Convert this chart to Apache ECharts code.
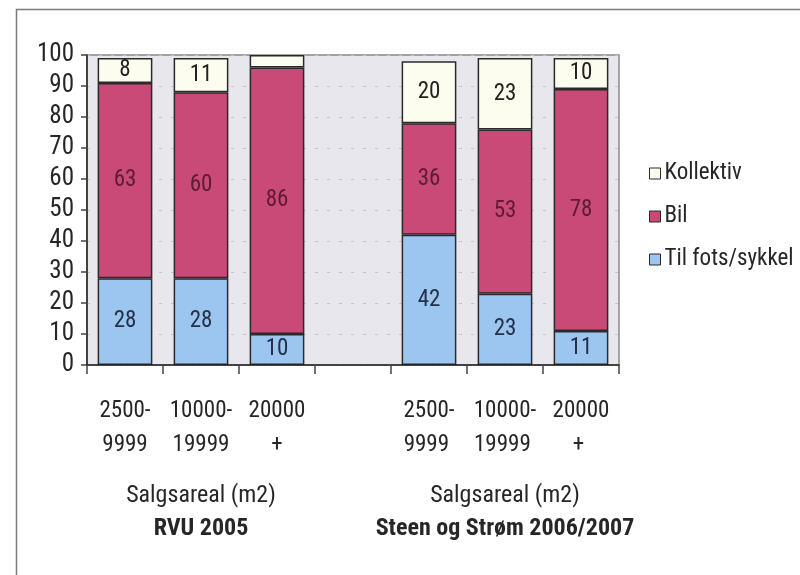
<!DOCTYPE html>
<html>
<head>
<meta charset="utf-8">
<script src="https://cdn.jsdelivr.net/npm/echarts@6/dist/echarts.min.js"></script>
<style>
  html, body { margin: 0; padding: 0; background: #ffffff; }
  #chart { width: 800px; height: 575px; }
</style>
</head>
<body>
<div id="chart"></div>
<script>
// Store size classes (sales area, m2) for two surveys; the empty slot separates them
const categories = ['2500-\n9999', '10000-\n19999', '20000\n+', '', '2500-\n9999 ', '10000-\n19999 ', '20000\n+ '];
const groupLabels = ['', 'RVU 2005', '', '', '', 'Steen og Strøm 2006/2007', ''];
const groupSubtitle = 'Salgsareal (m2)';

// Share of trips by travel mode (%)
const tilFots = [28, 28, 10, null, 42, 23, 11];
const bil = [63, 60, 86, null, 36, 53, 78];
const kollektiv = [8, 11, 4, null, 20, 23, 10];
// values too small to carry a label
const hideLabel = [false, false, true, false, false, false, false];

const yTicks = { min: 0, max: 100, interval: 10 };

const FONT = '"Liberation Sans Narrow", "Roboto Condensed", "DejaVu Sans Condensed", "Liberation Sans", Arial, sans-serif';
const BORDER = '#2a2a2a';
const TEXT = '#262626';

function toData(values) {
  return values.map((v, i) => ({
    value: v,
    label: hideLabel[i] && values === kollektiv ? { show: false } : undefined
  }));
}

function barSeries(name, values, color, labelColor) {
  return {
    name: name,
    type: 'bar',
    stack: 'total',
    barCategoryGap: '28%',
    data: toData(values),
    itemStyle: { color: color, borderColor: BORDER, borderWidth: 1.5 },
    label: {
      show: true,
      position: 'inside',
      fontFamily: FONT,
      fontSize: 23,
      color: labelColor
    },
    emphasis: { disabled: true }
  };
}

const chart = echarts.init(document.getElementById('chart'), null, { renderer: 'canvas' });

chart.setOption({
  animation: false,
  backgroundColor: '#ffffff',
  textStyle: { fontFamily: FONT },
  graphic: [{
    type: 'rect',
    silent: true,
    z: -10,
    shape: { x: 16.5, y: 9.5, width: 820, height: 620 },
    style: { fill: 'none', stroke: '#7a7a7a', lineWidth: 1.5 }
  }],
  grid: {
    left: 87, right: 181, top: 55, bottom: 210,
    show: true,
    backgroundColor: '#e7e7ed',
    borderColor: '#8a8a8a',
    borderWidth: 1.5
  },
  legend: {
    orient: 'vertical',
    left: 644,
    top: 157,
    itemWidth: 11,
    itemHeight: 11,
    itemGap: 20,
    icon: 'rect',
    data: ['Kollektiv', 'Bil', 'Til fots/sykkel'],
    textStyle: { fontFamily: FONT, fontSize: 23, color: TEXT, padding: [0, 0, 0, -1] },
    itemStyle: { borderColor: BORDER, borderWidth: 1 }
  },
  xAxis: [{
    type: 'category',
    data: categories,
    axisLine: { show: true, lineStyle: { color: '#222222', width: 1.5 } },
    axisTick: { show: true, length: 9, lineStyle: { color: '#444444', width: 1.5 } },
    axisLabel: {
      interval: 0,
      margin: 29,
      fontFamily: FONT,
      fontSize: 23,
      lineHeight: 34,
      color: TEXT
    },
    z: 5
  }, {
    type: 'category',
    data: groupLabels,
    position: 'bottom',
    axisLine: { show: false },
    axisTick: { show: false },
    axisLabel: {
      interval: 0,
      margin: 114,
      formatter: function (v) {
        return v ? '{sub|' + groupSubtitle + '}\n{main|' + v + '}' : '';
      },
      rich: {
        sub: { fontFamily: FONT, fontSize: 24, lineHeight: 33, color: TEXT },
        main: { fontFamily: FONT, fontSize: 24, lineHeight: 33, fontWeight: 'bold', color: TEXT }
      }
    }
  }],
  yAxis: {
    type: 'value',
    min: yTicks.min,
    max: yTicks.max,
    interval: yTicks.interval,
    axisLine: { show: true, lineStyle: { color: '#222222', width: 1.5 } },
    axisTick: { show: true, length: 6, lineStyle: { color: '#444444', width: 1.5 } },
    axisLabel: { fontFamily: FONT, fontSize: 25, color: TEXT, margin: 13 },
    splitLine: { show: true, lineStyle: { color: '#c2c2c8', type: [3, 9], width: 1 } }
  },
  series: [
    barSeries('Til fots/sykkel', tilFots, '#9cc5f0', '#22304a'),
    barSeries('Bil', bil, '#c94a76', '#5e1a36'),
    barSeries('Kollektiv', kollektiv, '#fdfdef', '#222222')
  ]
});
</script>
</body>
</html>
